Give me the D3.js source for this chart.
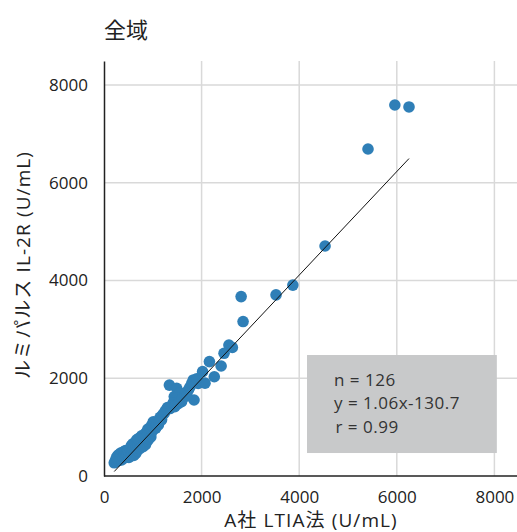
<!DOCTYPE html>
<html><head><meta charset="utf-8">
<script src="https://cdn.jsdelivr.net/npm/d3@7"></script>
<style>
html,body{margin:0;padding:0;background:#fff;}
text{font-family:"Open Sans","Noto Sans CJK JP",sans-serif;}
</style>
</head><body>
<svg id="chart" width="517" height="532"></svg>
<script>
const title = "全域";
const xLabel = "A社 LTIA法 (U/mL)";
const yLabel = "ルミパルス IL-2R (U/mL)";
const xTicks = [0, 2000, 4000, 6000, 8000];
const yTicks = [0, 2000, 4000, 6000, 8000];
const statsLines = ["n = 126", "y = 1.06x-130.7", "r = 0.99"];
const slope = 1.06, intercept = -130.7;

// A社 LTIA法 values (x)
const ltia = [5960,6250,5410,4530,3870,3525,2810,2850,2560,2630,2460,2160,2400,2260,2020,1830,1930,2070,1340,1490,1730,1845,1440,1590,1270,
 1800,1760,1900,1680,1620,1550,1500,1420,1380,1350,1300,1250,1200,1150,1100,1050,1010,1115,1060,1520,1600,1700,1450,1230,1180,
 720,740,750,760,770,780,790,800,810,820,830,840,850,860,870,880,890,900,910,920,940,950,960,980,990,1010,1030,1060,1080,1130,
 210,230,250,260,270,280,290,300,310,320,330,340,350,360,380,390,400,410,420,430,
 440,450,460,470,480,500,510,520,540,550,560,570,580,590,600,610,620,630,640,650,660,670,680,700,700,730];
// ルミパルス values (y)
const lumi = [7590,7550,6690,4705,3905,3705,3670,3160,2680,2630,2510,2340,2250,2030,2135,1965,1895,1900,1860,1795,1760,1555,1625,1520,1350,
 1900,1820,1990,1700,1650,1700,1600,1500,1430,1380,1400,1320,1250,1200,1120,1080,1110,1045,980,1480,1580,1640,1420,1280,1150,
 680,780,600,700,820,640,740,600,820,700,780,860,640,760,900,820,720,960,850,760,980,880,800,1040,920,1000,1080,990,1060,1110,
 270,300,360,300,400,340,430,320,390,440,360,470,400,330,480,400,360,500,430,380,
 520,450,390,500,430,520,380,470,560,420,620,500,450,660,540,420,600,510,680,460,580,740,520,630,760,560];

const svg = d3.select("#chart");
const pLeft = 104, pRight = 518.8, pTop = 61, pBottom = 476;
const x = d3.scaleLinear().domain([0, 8500]).range([pLeft, pRight]);
const y = d3.scaleLinear().domain([0, 8490]).range([pBottom, pTop]);

// grid
svg.append("g").selectAll("line").data(xTicks.filter(d=>d>0)).join("line")
  .attr("x1", d=>x(d)).attr("x2", d=>x(d)).attr("y1", pTop).attr("y2", pBottom)
  .attr("stroke", "#d9d9d9").attr("stroke-width", 1.5);
svg.append("g").selectAll("line").data(yTicks.filter(d=>d>0)).join("line")
  .attr("y1", d=>y(d)).attr("y2", d=>y(d)).attr("x1", pLeft).attr("x2", 517)
  .attr("stroke", "#d9d9d9").attr("stroke-width", 1.5);

// axes
const xAxis = d3.axisBottom(x).tickValues(xTicks).tickSize(0).tickPadding(15).tickFormat(d3.format("d"));
const yAxis = d3.axisLeft(y).tickValues(yTicks).tickSize(0).tickPadding(16).tickFormat(d3.format("d"));
const gx = svg.append("g").attr("transform", `translate(0,${pBottom})`).call(xAxis);
const gy = svg.append("g").attr("transform", `translate(${pLeft},0)`).call(yAxis);
[gx, gy].forEach(g => {
  g.select(".domain").attr("stroke", "#222").attr("stroke-width", 1.5);
  g.selectAll("text").attr("fill", "#222").style("font-size", "17px")
   .style("font-family", '"Open Sans","Noto Sans CJK JP",sans-serif');
});
gx.select(".domain").attr("d", `M${pLeft},0H517`);

// stats box
const boxX0 = x(4160), boxX1 = x(8050), boxY0 = y(2475), boxY1 = y(470);
svg.append("rect").attr("x", boxX0).attr("y", boxY0)
  .attr("width", boxX1 - boxX0).attr("height", boxY1 - boxY0).attr("fill", "#c8c9ca");
svg.append("g").selectAll("text").data(statsLines).join("text")
  .attr("x", (d,i)=> boxX0 + (i===2 ? 28.5 : 27))
  .attr("y", (d,i)=> boxY0 + 30.5 + i*23.5)
  .attr("fill", "#333").style("font-size", "17px").style("letter-spacing", "0.5px").text(d=>d);

// points
svg.append("g").selectAll("circle").data(ltia.map((v,i)=>[v, lumi[i]])).join("circle")
  .attr("cx", d=>x(d[0])).attr("cy", d=>y(d[1])).attr("r", 5.8).attr("fill", "#2f7fb7");

// regression line
const xmin = d3.min(ltia), xmax = d3.max(ltia);
svg.append("line").attr("x1", x(xmin)).attr("y1", y(slope*xmin+intercept))
  .attr("x2", x(xmax)).attr("y2", y(slope*xmax+intercept))
  .attr("stroke", "#111").attr("stroke-width", 1);

// titles
svg.append("text").attr("x", 104).attr("y", 38).attr("fill", "#222")
  .style("font-family", '"Noto Sans CJK JP",sans-serif')
  .style("font-size", "22px").text(title);
svg.append("text").attr("x", 311).attr("y", 527).attr("text-anchor", "middle")
  .attr("fill", "#222").style("font-size", "19px").style("letter-spacing", "1.1px").text(xLabel);
svg.append("text").attr("transform", "translate(30,265) rotate(-90)")
  .attr("text-anchor", "middle").attr("fill", "#222").style("font-size", "19px")
  .style("letter-spacing", "1.1px").text(yLabel);
</script>
</body></html>
